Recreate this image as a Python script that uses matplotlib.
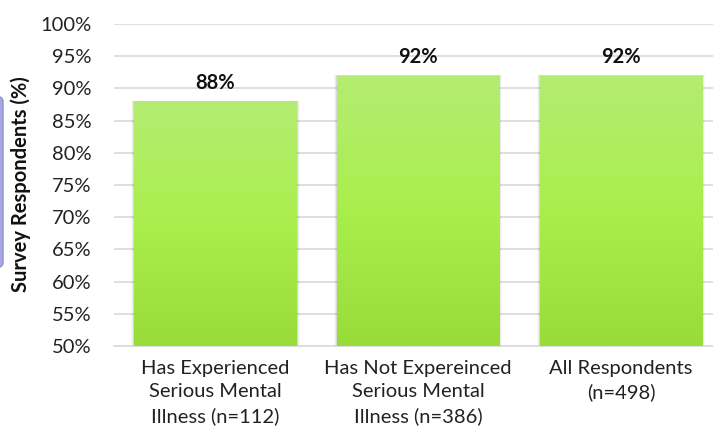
import numpy as np
import matplotlib.pyplot as plt
from matplotlib.patches import FancyBboxPatch
from matplotlib.colors import LinearSegmentedColormap

categories = ['Has Experienced\nSerious Mental\nIllness (n=112)',
              'Has Not Expereinced\nSerious Mental\nIllness (n=386)',
              'All Respondents\n(n=498)']
values = [88, 92, 92]
yticks = [50, 55, 60, 65, 70, 75, 80, 85, 90, 95, 100]

plt.rcParams['font.family'] = ['Lato', 'DejaVu Sans']

fig = plt.figure(figsize=(7.13, 4.43), dpi=100)
# axes runs a little past the right edge of the figure
ax = fig.add_axes([114/713, 1-346/443, (722.5-114)/713, (346-24)/443])

x = np.arange(len(values))
bars = ax.bar(x, values, width=0.8, color='#a6ee48', zorder=3)

# vertical gradient fill, light at top
cmap = LinearSegmentedColormap.from_list('g', ['#b4ec72', '#a9ef4c', '#98dc3a'])
grad = np.linspace(0, 1, 256).reshape(-1, 1)
for b in bars:
    x0, w, h = b.get_x(), b.get_width(), b.get_height()
    # soft shadow
    for k, a in enumerate([0.08, 0.05, 0.025]):
        ax.add_patch(plt.Rectangle((x0 - 0.005*(k+1), 50), w + 0.01*(k+1), h - 50 + 0.04*(k+1),
                                   color='black', alpha=a, lw=0, zorder=2))
    im = ax.imshow(grad, cmap=cmap, aspect='auto', extent=[x0, x0+w, 50, h], zorder=4)
    im.set_clip_path(b)
    ax.text(b.get_x() + w/2, h + 1.3, f'{h:g}%', ha='center', va='bottom',
            fontsize=14.5, fontweight='bold', color='#111111', zorder=5)

ax.set_xlim(-0.5, 2.5)
ax.set_ylim(50, 100)
ax.set_yticks(yticks)
ax.set_yticklabels([f'{t}%' for t in yticks], fontsize=14.5, color='#222222')
ax.set_xticks(x)
ax.set_xticklabels(categories, fontsize=14.5, color='#222222', linespacing=1.45)
ax.tick_params(axis='y', length=0, pad=16)
ax.tick_params(axis='x', length=0, pad=10)
ax.grid(axis='y', color='#d9d9d9', lw=1.2, zorder=0)
ax.set_axisbelow(True)
for s in ['top', 'right', 'left']:
    ax.spines[s].set_visible(False)
ax.spines['bottom'].set_color('#d9d9d9')
ax.spines['bottom'].set_linewidth(1.2)

fig.text(21/713, 1-184/443, 'Survey Respondents (%)', rotation=90, ha='center', va='center',
         fontsize=14.5, fontweight='bold', color='#111111')

# partly hidden box at the left edge
fig.patches.append(FancyBboxPatch((-20/713, 1-268/443), 23/713, 172/443,
                                  boxstyle='round,pad=0,rounding_size=0.012',
                                  transform=fig.transFigure, facecolor='#a9a9e0',
                                  edgecolor='#8f8fd0', lw=1))

fig.savefig('out.png', dpi=100)
